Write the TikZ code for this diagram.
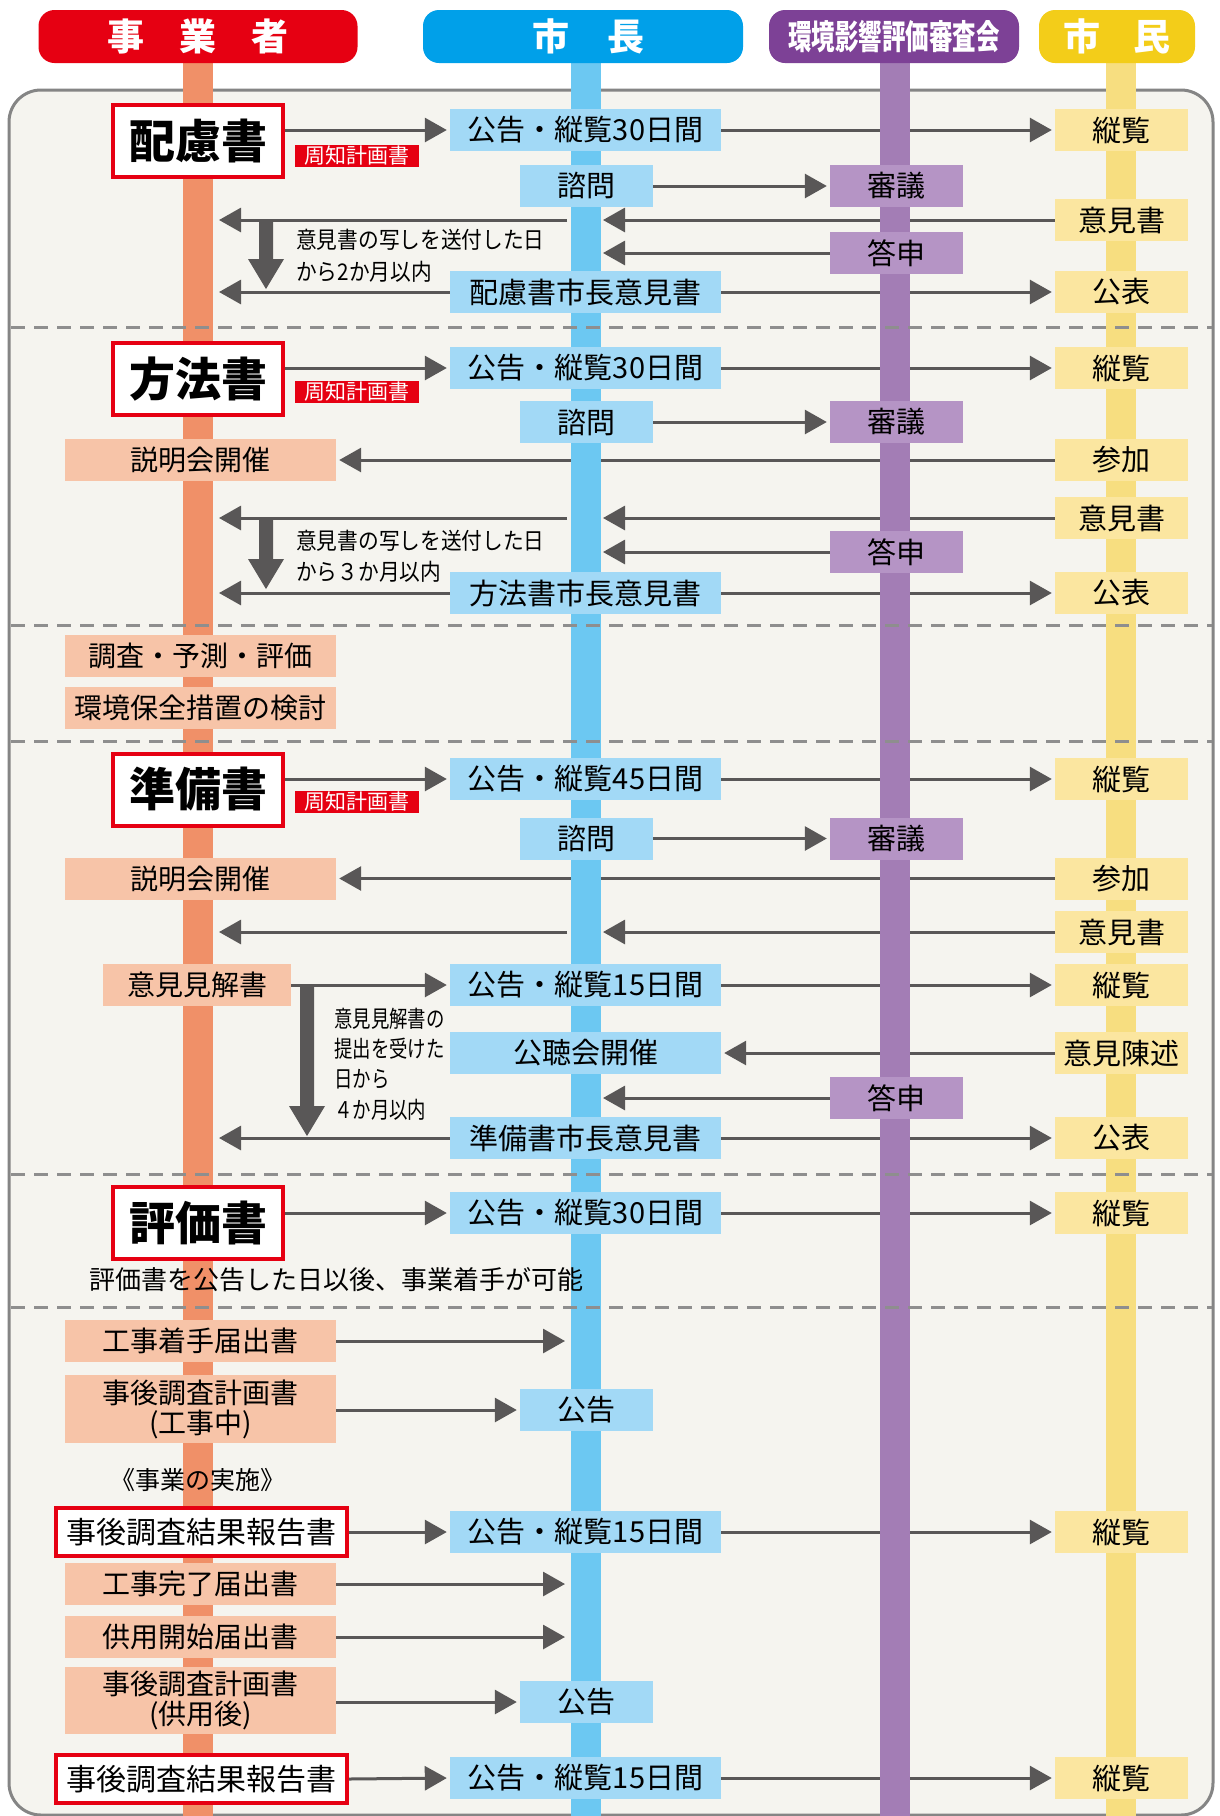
\documentclass[tikz,border=0pt]{standalone}
\usepackage{fontspec}
\newfontfamily\jp{Noto Sans CJK JP}
\newfontfamily\jpm[FakeStretch=0.9]{Noto Sans CJK JP}
\newfontfamily\jpn[FakeStretch=0.8]{Noto Sans CJK JP}
\newfontfamily\jpc[FakeStretch=0.69]{Noto Sans CJK JP}
\usetikzlibrary{arrows.meta,calc}
\pgfdeclarelayer{bg}
\pgfdeclarelayer{arw}
\pgfdeclarelayer{lane}
\pgfsetlayers{bg,arw,lane,main}
\definecolor{hred}{HTML}{E60012}
\definecolor{hblue}{HTML}{00A0E9}
\definecolor{hpurple}{HTML}{7D4196}
\definecolor{hyellow}{HTML}{F3CD19}
\definecolor{lorange}{HTML}{F09068}
\definecolor{lblue}{HTML}{6CC8F2}
\definecolor{lpurple}{HTML}{A37DB5}
\definecolor{lyellow}{HTML}{F7DE80}
\definecolor{bblue}{HTML}{A2D9F6}
\definecolor{bpurple}{HTML}{B594C5}
\definecolor{byellow}{HTML}{FBE6A0}
\definecolor{borange}{HTML}{F7C4A8}
\definecolor{framefill}{HTML}{F5F4EF}
\definecolor{framedraw}{HTML}{858585}
\definecolor{argray}{HTML}{595757}
\definecolor{dashgray}{HTML}{8E8E8E}
\newcommand\bigdown[2]{%
  \fill[argray] ($(#1)+(-7,0)$) -- ($(#2)+(-7,-30)$) -- ($(#2)+(-18,-30)$) -- (#2)
    -- ($(#2)+(18,-30)$) -- ($(#2)+(7,-30)$) -- ($(#1)+(7,0)$) -- cycle;}
\tikzset{
  bx/.style={inner sep=0pt, minimum height=42pt, font=\jp\fontsize{29pt}{31pt}\selectfont, text=black},
  bluew/.style={bx, fill=bblue, minimum width=271pt},
  bluen/.style={bx, fill=bblue, minimum width=133pt},
  purp/.style={bx, fill=bpurple, minimum width=133pt},
  yel/.style={bx, fill=byellow, minimum width=133pt},
  org/.style={bx, fill=borange, minimum width=271pt, font=\jp\fontsize{28pt}{30pt}\selectfont},
  doc/.style={inner sep=0pt, draw=hred, line width=4pt, fill=white, minimum width=170pt,
    minimum height=72pt, font=\jp\bfseries\fontsize{46pt}{48pt}\selectfont},
  rdoc/.style={doc, minimum width=291pt, minimum height=48pt, font=\jp\fontsize{30pt}{32pt}\selectfont},
  tag/.style={inner sep=0pt, fill=hred, text=white, minimum width=124pt, minimum height=22pt,
    font=\jp\fontsize{21pt}{22pt}\selectfont},
  pill/.style={rounded corners=16pt, inner sep=0pt, minimum height=53pt, text=white,
    font=\jp\bfseries\fontsize{37pt}{39pt}\selectfont},
  ar/.style={draw=argray, line width=3pt, -{Triangle[length=22pt,width=24pt]}},
  ars/.style={ar, shorten >=3pt},
  note/.style={inner sep=0pt, anchor=west, font=\jpm\fontsize{23pt}{25pt}\selectfont},
  noten/.style={inner sep=0pt, anchor=west, font=\jpn\fontsize{23pt}{25pt}\selectfont},
  lanestyle/.style={line width=30pt},
  sepline/.style={draw=dashgray, line width=3pt, dash pattern=on 14pt off 9pt},
}
\begin{document}
\begin{tikzpicture}[x=1pt,y=-1pt]
\useasboundingbox (0,0) rectangle (1219,1816);
\begin{pgfonlayer}{bg}
  \fill[white] (0,0) rectangle (1219,1816);
  \draw[framedraw, fill=framefill, line width=3pt, rounded corners=32pt] (9,90) rectangle (1213,1815);
\end{pgfonlayer}
\begin{pgfonlayer}{lane}
  \draw[lanestyle, lorange] (198,60) -- (198,1816);
  \draw[lanestyle, lblue] (586,60) -- (586,1816);
  \draw[lanestyle, lpurple] (895,60) -- (895,1816);
  \draw[lanestyle, lyellow] (1120.5,60) -- (1120.5,1816);
  \foreach \yy in {327,625,741,1174,1307} \draw[sepline] (11,\yy) -- (1212,\yy);
\end{pgfonlayer}

% headers
\node[pill, fill=hred, minimum width=319pt] (hd1) at (198,36.5) {事\hspace{35pt}業\hspace{35pt}者};
\node[pill, fill=hblue, minimum width=320pt] (hd2) at (583,36.5) {\hspace{11pt}市\hspace{38pt}長};
\node[pill, fill=hpurple, minimum width=250pt, font=\jpc\bfseries\fontsize{34pt}{36pt}\selectfont] (hd3) at (894,36.5) {環境影響評価審査会};
\node[pill, fill=hyellow, minimum width=156pt] (hd4) at (1117,36.5) {市\hspace{34pt}民};

% section 1
\node[doc] (hairyo) at (198,141) {配慮書};
\node[tag] (tag1) at (357,156) {周知計画書};
\node[bluew] (koku1) at (585.5,130) {公告・縦覧30日間};
\node[yel] (jur1) at (1121.5,130) {縦覧};
\node[bluen] (shimon1) at (586.5,186) {諮問};
\node[purp] (shingi1) at (896.5,186) {審議};
\node[yel] (iken1) at (1121.5,220) {意見書};
\node[purp] (toshin1) at (896.5,253) {答申};
\node[bluew] (mayor1) at (585.5,292) {配慮書市長意見書};
\node[yel] (kohyo1) at (1121.5,292) {公表};
\node[note] (nt1a) at (296,240) {意見書の写しを送付した日};
\node[note] (nt1b) at (296,272) {から2か月以内};
\coordinate (m1r) at (603,220);
\coordinate (m1l) at (567,220);
\coordinate (o1) at (219,220);
\coordinate (m1t) at (603,253);
\coordinate (o1b) at (219,292);
\coordinate (ba1s) at (266,221);
\coordinate (ba1e) at (266,289);

% section 2
\node[doc] (hoho) at (198,379) {方法書};
\node[tag] (tag2) at (357,392) {周知計画書};
\node[bluew] (koku2) at (585.5,368) {公告・縦覧30日間};
\node[yel] (jur2) at (1121.5,368) {縦覧};
\node[bluen] (shimon2) at (586.5,422) {諮問};
\node[purp] (shingi2) at (896.5,422) {審議};
\node[org] (setsu2) at (200.5,460) {説明会開催};
\node[yel] (sanka2) at (1121.5,460) {参加};
\node[yel] (iken2) at (1121.5,518) {意見書};
\node[purp] (toshin2) at (896.5,552) {答申};
\node[bluew] (mayor2) at (585.5,593) {方法書市長意見書};
\node[yel] (kohyo2) at (1121.5,593) {公表};
\node[note] (nt2a) at (296,541) {意見書の写しを送付した日};
\node[note] (nt2b) at (296,572) {から３か月以内};
\coordinate (m2r) at (603,518);
\coordinate (m2l) at (567,518);
\coordinate (o2) at (219,518);
\coordinate (m2t) at (603,552);
\coordinate (o2b) at (219,593);
\coordinate (ba2s) at (266,520);
\coordinate (ba2e) at (266,589);

% section 3
\node[org] (chosa) at (200.5,656) {調査・予測・評価};
\node[org] (kento) at (200.5,707.5) {環境保全措置の検討};

% section 4
\node[doc] (junbi) at (198,789.5) {準備書};
\node[tag] (tag3) at (357,802) {周知計画書};
\node[bluew] (koku3) at (585.5,779) {公告・縦覧45日間};
\node[yel] (jur3) at (1121.5,779) {縦覧};
\node[bluen] (shimon3) at (586.5,838.5) {諮問};
\node[purp] (shingi3) at (896.5,838.5) {審議};
\node[org] (setsu3) at (200.5,878.5) {説明会開催};
\node[yel] (sanka3) at (1121.5,878.5) {参加};
\node[yel] (iken3) at (1121.5,932) {意見書};
\node[org, minimum width=188pt] (kenkai) at (197,985) {意見見解書};
\node[bluew] (koku4) at (585.5,985) {公告・縦覧15日間};
\node[yel] (jur4) at (1121.5,985) {縦覧};
\node[bluew] (kocho) at (585.5,1053) {公聴会開催};
\node[yel] (chinjutsu) at (1121.5,1053) {意見陳述};
\node[purp] (toshin3) at (896.5,1098) {答申};
\node[bluew] (mayor3) at (585.5,1138) {準備書市長意見書};
\node[yel] (kohyo3) at (1121.5,1138) {公表};
\node[noten] (nt3a) at (334,1019) {意見見解書の};
\node[noten] (nt3b) at (334,1049) {提出を受けた};
\node[noten] (nt3c) at (334,1079) {日から};
\node[noten] (nt3d) at (334,1110) {４か月以内};
\coordinate (m3r) at (603,932);
\coordinate (m3l) at (567,932);
\coordinate (o3) at (219,932);
\coordinate (m3t) at (603,1098);
\coordinate (o3b) at (219,1138);
\coordinate (ba3s) at (307,986);
\coordinate (ba3e) at (307,1136);

% section 5
\node[doc] (hyoka) at (198,1223) {評価書};
\node[bluew] (koku5) at (585.5,1213) {公告・縦覧30日間};
\node[yel] (jur5) at (1121.5,1213) {縦覧};
\node[inner sep=0pt, font=\jp\fontsize{26pt}{28pt}\selectfont] (note5) at (336,1280) {評価書を公告した日以後、事業着手が可能};

% section 6
\node[org] (chakushu) at (200.5,1341) {工事着手届出書};
\node[org, minimum height=68pt, align=center] (keikaku1) at (200.5,1409) {事後調査計画書\\(工事中)};
\node[bluen] (koku6) at (586.5,1410) {公告};
\node[inner sep=0pt, font=\jp\fontsize{25pt}{27pt}\selectfont] (jisshi) at (198,1480) {《事業の実施》};
\node[rdoc] (hokoku1) at (201.5,1532) {事後調査結果報告書};
\node[bluew] (koku7) at (585.5,1532) {公告・縦覧15日間};
\node[yel] (jur7) at (1121.5,1532) {縦覧};
\node[org] (kanryo) at (200.5,1584) {工事完了届出書};
\node[org] (kaishi) at (200.5,1637) {供用開始届出書};
\node[org, minimum height=67pt, align=center] (keikaku2) at (200.5,1700) {事後調査計画書\\(供用後)};
\node[bluen] (koku8) at (586.5,1702) {公告};
\node[rdoc] (hokoku2) at (201.5,1779) {事後調査結果報告書};
\node[bluew] (koku9) at (585.5,1778) {公告・縦覧15日間};
\node[yel] (jur9) at (1121.5,1778) {縦覧};
\coordinate (m6a) at (565,1341);
\coordinate (m6b) at (565,1584);
\coordinate (m6c) at (565,1637);

\begin{pgfonlayer}{arw}
  % section 1
  \draw[ars] (hairyo.east |- koku1) -- (koku1.west);
  \draw[ars] (koku1.east) -- (jur1.west);
  \draw[ars] (shimon1.east) -- (shingi1.west);
  \draw[ar] (iken1.west) -- (m1r);
  \draw[ar] (m1l) -- (o1);
  \draw[ar] (toshin1.west) -- (m1t);
  \draw[ar] (mayor1.west) -- (o1b);
  \draw[ars] (mayor1.east) -- (kohyo1.west);
  \bigdown{ba1s}{ba1e}
  % section 2
  \draw[ars] (hoho.east |- koku2) -- (koku2.west);
  \draw[ars] (koku2.east) -- (jur2.west);
  \draw[ars] (shimon2.east) -- (shingi2.west);
  \draw[ars] (sanka2.west) -- (setsu2.east);
  \draw[ar] (iken2.west) -- (m2r);
  \draw[ar] (m2l) -- (o2);
  \draw[ar] (toshin2.west) -- (m2t);
  \draw[ar] (mayor2.west) -- (o2b);
  \draw[ars] (mayor2.east) -- (kohyo2.west);
  \bigdown{ba2s}{ba2e}
  % section 4
  \draw[ars] (junbi.east |- koku3) -- (koku3.west);
  \draw[ars] (koku3.east) -- (jur3.west);
  \draw[ars] (shimon3.east) -- (shingi3.west);
  \draw[ars] (sanka3.west) -- (setsu3.east);
  \draw[ar] (iken3.west) -- (m3r);
  \draw[ar] (m3l) -- (o3);
  \draw[ars] (kenkai.east) -- (koku4.west);
  \draw[ars] (koku4.east) -- (jur4.west);
  \draw[ars] (chinjutsu.west) -- (kocho.east);
  \draw[ar] (toshin3.west) -- (m3t);
  \draw[ar] (mayor3.west) -- (o3b);
  \draw[ars] (mayor3.east) -- (kohyo3.west);
  \bigdown{ba3s}{ba3e}
  % section 5
  \draw[ars] (hyoka.east |- koku5) -- (koku5.west);
  \draw[ars] (koku5.east) -- (jur5.west);
  % section 6
  \draw[ar] (chakushu.east) -- (m6a);
  \draw[ars] (keikaku1.east |- koku6) -- (koku6.west);
  \draw[ars] (hokoku1.east) -- (koku7.west);
  \draw[ars] (koku7.east) -- (jur7.west);
  \draw[ar] (kanryo.east) -- (m6b);
  \draw[ar] (kaishi.east) -- (m6c);
  \draw[ars] (keikaku2.east |- koku8) -- (koku8.west);
  \draw[ars] (hokoku2.east) -- (koku9.west);
  \draw[ars] (koku9.east) -- (jur9.west);
\end{pgfonlayer}
\end{tikzpicture}
\end{document}
